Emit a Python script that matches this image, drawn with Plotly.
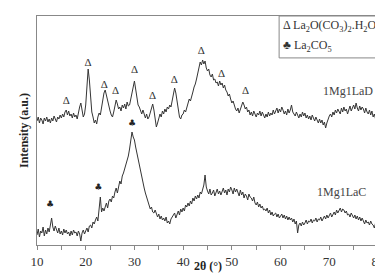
import numpy as np
import plotly.graph_objects as go

# 2-theta grid (0.25 deg step, 10..80)
two_theta = [10 + 0.25 * i for i in range(281)]

# 1Mg1LaD intensities (arbitrary units)
int_D = [
    124,128,122,127, 125,121,127,124, 128,123,126,122, 127,124,129,125,
    123,128,126,130, 127,131,128,133, 135,130,134,129, 131,127,132,128,
    130,126,133,138, 142,134,128,131, 140,158,176,165, 145,133,128,122,
    125,121,128,132, 130,138,145,152, 155,149,144,137, 134,130,128,133,
    139,145,141,136, 138,134,140,137, 141,136,143,139, 140,145,150,158,
    164,156,147,140, 138,134,131,135, 130,127,131,126, 128,133,138,141,
    135,126,118,122, 127,131,128,134, 131,136,133,138, 136,140,138,144,
    150,157,152,143, 135,128,126,130, 131,135,133,138, 142,146,144,150,
    153,158,161,166, 172,178,183,180, 185,181,184,177, 174,176,170,168,
    171,165,166,162, 163,159,164,160, 162,157,160,155, 153,149,151,146,
    142,144,139,136, 134,137,132,136, 139,143,140,136, 138,133,135,130,
    133,129,134,131, 128,132,130,134, 129,133,130,127, 131,128,133,129,
    132,130,135,131, 134,137,132,136, 133,138,135,131, 134,130,136,132,
    135,140,133,131, 129,133,130,127, 131,128,133,129, 132,127,130,126,
    129,125,130,127, 124,128,125,122, 126,122,125,120, 123,117,122,126,
    129,131,128,133, 130,135,132,136, 134,131,137,133, 138,134,136,131,
    135,139,134,137, 140,136,142,137, 134,139,135,138, 136,132,137,133,
    131,135,130,134, 128,131,126,127, 146,
]

# 1Mg1LaC intensities
int_C = [
    10,16,8,14, 12,18,9,15, 11,17,13,20, 27,18,14,19, 15,12,17,11,
    14,10,16,12, 15,11,13,9, 14,10,15,12, 13,9,14,11, 4,12,15,11,
    14,17,13,19, 20,17,23,21, 25,28,24,36, 48,33,37,34, 39,42,37,44,
    46,43,49,47, 53,57,52,60, 64,61,69,72, 76,80,85,89, 96,103,113,108,
    105,98,92,86, 81,74,66,62, 57,52,47,44, 40,36,38,33, 32,35,30,28,
    31,26,29,25, 27,24,28,22, 24,21,26,28, 29,32,27,31, 34,30,36,33,
    37,34,40,38, 42,39,44,41, 47,44,49,46, 50,47,53,51, 55,60,70,58,
    54,51,56,50, 52,55,49,53, 56,51,54,50, 54,57,52,55, 50,56,53,58,
    55,51,57,53, 56,52,49,55, 50,53,47,51, 49,45,51,48, 47,44,48,42,
    40,43,38,41, 37,39,35,36, 34,37,32,35, 30,33,29,31, 32,28,31,27,
    29,31,27,30, 26,29,25,28, 25,27,23,26, 21,24,12,20, 22,19,23,20,
    22,25,21,24, 23,26,22,25, 24,27,23,26, 25,28,24,27, 29,26,30,27,
    29,32,28,31, 33,30,35,32, 34,37,33,36, 35,32,34,30, 31,28,32,29,
    27,30,26,29, 25,28,24,27, 24,21,25,22, 23,20,24,21, 20,17,22,66,
    60,
]

# Phase markers
delta_x = [16, 20.5, 23.8, 26.1, 30, 33.7, 38.2, 43.7, 47.9, 52.8]
delta_y = [144, 182, 160, 154, 175, 149, 165, 194, 171, 154]
club_x = [12.7, 22.6, 29.5]
club_y = [40, 57, 121]

series_names = ["1Mg1LaD", "1Mg1LaC"]
legend_lines = ["Δ La<sub>2</sub>O(CO<sub>3</sub>)<sub>2</sub>.H<sub>2</sub>O",
                "♣ La<sub>2</sub>CO<sub>5</sub>"]

FONT = "Liberation Serif"
LINE = "#353535"

fig = go.Figure()
fig.add_trace(go.Scatter(x=two_theta, y=int_D, mode="lines",
                         line=dict(color=LINE, width=1), showlegend=False))
fig.add_trace(go.Scatter(x=two_theta, y=int_C, mode="lines",
                         line=dict(color=LINE, width=1), showlegend=False))
fig.add_trace(go.Scatter(x=delta_x, y=delta_y, mode="text", text=["Δ"] * len(delta_x),
                         textfont=dict(family=FONT, size=11, color="#333"), showlegend=False))
fig.add_trace(go.Scatter(x=club_x, y=club_y, mode="text", text=["♣"] * len(club_x),
                         textfont=dict(family="DejaVu Sans", size=9, color="#222"), showlegend=False))

# legend box
fig.add_shape(type="rect", xref="paper", yref="paper", x0=0.71, x1=1.0, y0=0.817, y1=1.0,
              line=dict(color="#888", width=1), fillcolor="white", layer="above")
fig.add_annotation(xref="paper", yref="paper", x=0.715, y=0.955, text=legend_lines[0],
                   showarrow=False, xanchor="left", yanchor="middle",
                   font=dict(family=FONT, size=12, color="#333"))
fig.add_annotation(xref="paper", yref="paper", x=0.715, y=0.87, text=legend_lines[1],
                   showarrow=False, xanchor="left", yanchor="middle",
                   font=dict(family=FONT, size=12, color="#333"))

# series labels
fig.add_annotation(xref="paper", yref="paper", x=0.99, y=0.672, text=series_names[0],
                   showarrow=False, xanchor="right", yanchor="middle",
                   font=dict(family=FONT, size=12, color="#444"))
fig.add_annotation(xref="paper", yref="paper", x=0.97, y=0.231, text=series_names[1],
                   showarrow=False, xanchor="right", yanchor="middle",
                   font=dict(family=FONT, size=12, color="#444"))

# x-axis title
fig.add_annotation(xref="paper", yref="paper", x=0.5, y=-0.093, text="<b>2θ (°)</b>",
                   showarrow=False, xanchor="center", yanchor="middle",
                   font=dict(family=FONT, size=12, color="#222"))

fig.update_layout(
    width=383, height=274,
    margin=dict(l=29, r=13, t=8, b=37, autoexpand=False),
    paper_bgcolor="white", plot_bgcolor="white",
    font=dict(family=FONT, color="#333"),
    xaxis=dict(range=[10, 80], dtick=10, tick0=10, ticks="outside", ticklen=4,
               tickcolor="#888", linecolor="#888", linewidth=1, mirror=True,
               showgrid=False, zeroline=False, automargin=False,
               tickfont=dict(family=FONT, size=13, color="#333"),
               minor=dict(dtick=5, ticks="outside", ticklen=4, tickcolor="#888")),
    yaxis=dict(range=[0, 229], showticklabels=False, ticks="", linecolor="#888",
               linewidth=1, mirror=True, showgrid=False, zeroline=False, automargin=False,
               title=dict(text="<b>Intensity (a.u.)</b>", font=dict(family=FONT, size=12, color="#222"),
                          standoff=4)),
)

fig.write_html("out.html")
